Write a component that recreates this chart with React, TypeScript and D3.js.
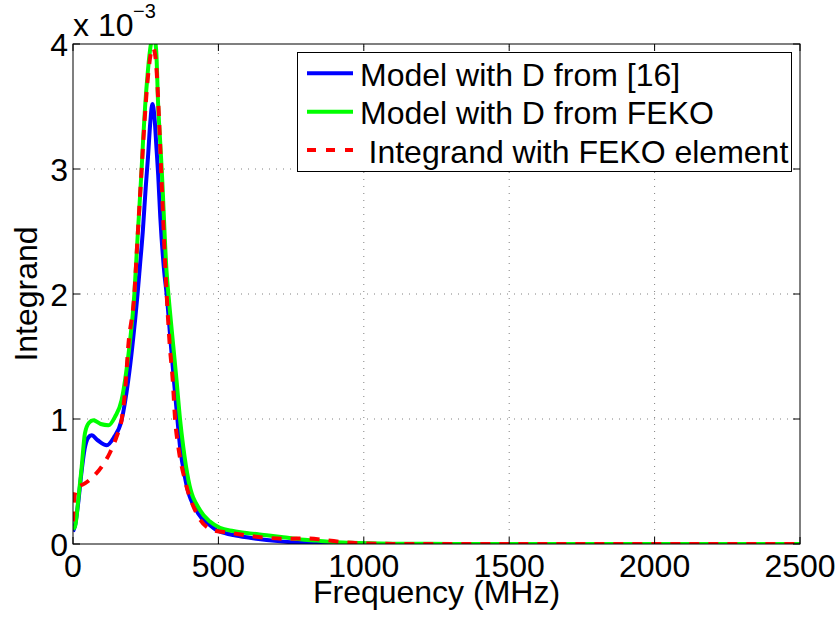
import React from "react";
import * as d3 from "d3";

// ---- data (values in units of 1e-3) ----
const xTicks = [0, 500, 1000, 1500, 2000, 2500];
const yTicks = [0, 1, 2, 3, 4];
const seriesNames = [
  "Model with D from [16]",
  "Model with D from FEKO",
  "Integrand with FEKO element",
];

const blueFreq = [0, 8, 18, 28, 40, 52, 64, 85, 116, 140, 167, 190, 204, 222, 230, 240, 250, 258, 266, 273, 280, 287, 293, 300, 314, 322, 337, 347, 359, 368, 387, 430, 471, 494, 505, 551, 608, 666, 723, 781, 838, 900, 1000, 1200, 2500];
const blueVal = [0.1, 0.16, 0.33, 0.55, 0.76, 0.85, 0.87, 0.83, 0.79, 0.85, 0.99, 1.31, 1.58, 2.0, 2.22, 2.5, 2.85, 3.1, 3.38, 3.52, 3.42, 3.17, 2.95, 2.62, 2.17, 2.0, 1.58, 1.31, 1.0, 0.78, 0.51, 0.245, 0.15, 0.11, 0.1, 0.072, 0.05, 0.032, 0.019, 0.01, 0.005, 0.003, 0.001, 0.0, 0.0];

const greenFreq = [0, 7, 18, 30, 41, 55, 70, 95, 122, 145, 167, 179, 194, 211, 222, 236, 241, 248, 257, 266, 277, 286, 293, 299, 305, 322, 328, 345, 356, 368, 379, 397, 437, 471, 505, 551, 608, 666, 723, 781, 838, 895, 952, 1100, 1300, 2500];
const greenVal = [0.12, 0.14, 0.35, 0.62, 0.885, 0.97, 0.99, 0.96, 0.95, 1.02, 1.15, 1.31, 1.58, 2.0, 2.45, 3.0, 3.23, 3.5, 3.77, 3.97, 4.08, 3.95, 3.5, 3.25, 3.0, 2.17, 2.0, 1.58, 1.31, 1.0, 0.78, 0.51, 0.27, 0.18, 0.13, 0.104, 0.085, 0.07, 0.054, 0.037, 0.027, 0.016, 0.01, 0.003, 0.001, 0.0];

const redFreq = [0, 4, 12, 25, 41, 70, 99, 127, 150, 167, 180, 190, 211, 222, 236, 242, 248, 259, 268, 275, 282, 288, 293, 299, 303, 322, 333, 343, 351, 362, 385, 425, 482, 540, 603, 666, 735, 801, 867, 930, 1000, 1100, 2500];
const redVal = [0.18, 0.36, 0.44, 0.465, 0.485, 0.54, 0.62, 0.73, 0.86, 0.99, 1.25, 1.58, 2.0, 2.45, 3.0, 3.23, 3.45, 3.77, 3.93, 3.97, 3.92, 3.77, 3.55, 3.23, 3.0, 2.0, 1.58, 1.31, 1.0, 0.78, 0.51, 0.245, 0.11, 0.09, 0.066, 0.05, 0.042, 0.045, 0.032, 0.014, 0.004, 0.001, 0.0];

const W = 839;
const H = 619;
const FONT = "'Liberation Sans', Arial, Helvetica, sans-serif";
const FS = 32;

export default function App() {
  const x = d3.scaleLinear().domain([0, 2500]).range([73, 800]);
  const y = d3.scaleLinear().domain([0, 4]).range([544, 44]);
  const [x0, x1] = x.range();
  const [y0, y1] = y.range();

  const line = d3
    .line<[number, number]>()
    .x((d) => x(d[0]))
    .y((d) => y(d[1]))
    .curve(d3.curveMonotoneX);

  const zip = (a: number[], b: number[]) => a.map((v, i) => [v, b[i]] as [number, number]);

  const series = [
    { name: seriesNames[0], d: zip(blueFreq, blueVal), color: "#0000ff", dash: undefined as string | undefined },
    { name: seriesNames[1], d: zip(greenFreq, greenVal), color: "#00ff00", dash: undefined },
    { name: seriesNames[2], d: zip(redFreq, redVal), color: "#ff0000", dash: "10,9" },
  ];

  const legX = 297.5, legY = 52.5, legW = 494, legH = 119;
  const rowY = [73.3, 111.7, 150];

  return (
    <svg
      width={W}
      height={H}
      style={{ position: "absolute", left: 0, top: 0, background: "#fff" }}
      fontFamily={FONT}
    >
      <rect x={0} y={0} width={W} height={H} fill="#fff" />
      <defs>
        <clipPath id="plotclip">
          <rect x={x0} y={y1} width={x1 - x0} height={y0 - y1} />
        </clipPath>
      </defs>
      {/* grid */}
      <g stroke="#808080" strokeWidth={1} strokeDasharray="1,6">
        {xTicks.slice(1, -1).map((t) => (
          <line key={"gx" + t} x1={x(t)} x2={x(t)} y1={y0} y2={y1} />
        ))}
        {yTicks.slice(1, -1).map((t) => (
          <line key={"gy" + t} x1={x0} x2={x1} y1={y(t)} y2={y(t)} />
        ))}
      </g>
      {/* curves */}
      <g clipPath="url(#plotclip)" fill="none">
        {series.map((s) => (
          <path
            key={s.name}
            d={line(s.d) || ""}
            stroke={s.color}
            strokeWidth={4}
            strokeDasharray={s.dash}
            strokeLinejoin="round"
          />
        ))}
      </g>
      {/* axes box and ticks */}
      <g stroke="#000" strokeWidth={1} fill="none">
        <rect x={x0} y={y1} width={x1 - x0} height={y0 - y1} />
        {xTicks.map((t) => (
          <g key={"tx" + t}>
            <line x1={x(t)} x2={x(t)} y1={y0} y2={y0 - 7} />
            <line x1={x(t)} x2={x(t)} y1={y1} y2={y1 + 7} />
          </g>
        ))}
        {yTicks.map((t) => (
          <g key={"ty" + t}>
            <line x1={x0} x2={x0 + 7} y1={y(t)} y2={y(t)} />
            <line x1={x1} x2={x1 - 7} y1={y(t)} y2={y(t)} />
          </g>
        ))}
      </g>
      {/* tick labels */}
      <g fontSize={FS} fill="#000">
        {xTicks.map((t) => (
          <text key={"lx" + t} x={x(t)} y={577} textAnchor="middle">
            {t}
          </text>
        ))}
        {yTicks.map((t) => (
          <text key={"ly" + t} x={68} y={y(t) + 12} textAnchor="end">
            {t}
          </text>
        ))}
      </g>
      {/* exponent */}
      <text x={73} y={36} fontSize={FS} fill="#000">
        x 10
      </text>
      <text x={133} y={18} fontSize={20} fill="#000">
        −3
      </text>
      {/* axis labels */}
      <text x={(x0 + x1) / 2} y={603} fontSize={FS} textAnchor="middle" fill="#000">
        Frequency (MHz)
      </text>
      <text
        transform={`translate(37,${(y0 + y1) / 2}) rotate(-90)`}
        fontSize={FS}
        textAnchor="middle"
        fill="#000"
      >
        Integrand
      </text>
      {/* legend */}
      <rect x={legX} y={legY} width={legW} height={legH} fill="#fff" stroke="#000" strokeWidth={1} />
      {series.map((s, i) => (
        <g key={"leg" + i}>
          <line
            x1={307}
            x2={353}
            y1={rowY[i]}
            y2={rowY[i]}
            stroke={s.color}
            strokeWidth={4}
            strokeDasharray={s.dash ? "9,10" : undefined}
          />
          <text x={i === 2 ? 368.5 : 360} y={rowY[i] + 12.7} fontSize={FS} fill="#000">
            {s.name}
          </text>
        </g>
      ))}
    </svg>
  );
}
